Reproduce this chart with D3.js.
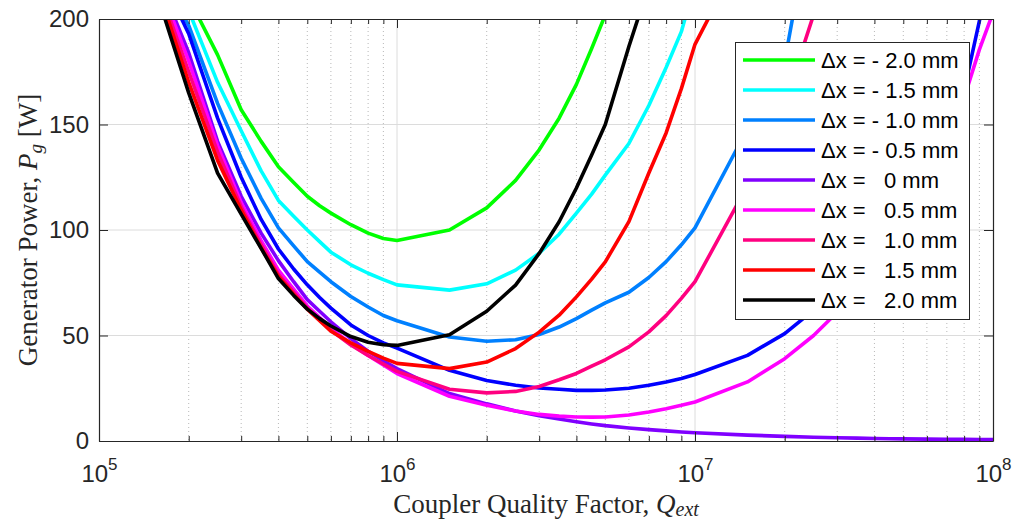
<!DOCTYPE html>
<html><head><meta charset="utf-8">
<script src="https://cdn.jsdelivr.net/npm/d3@7"></script>
<style>
body{margin:0;background:#fff;}
svg{display:block;}
text{white-space:pre;}
</style></head><body>
<svg id="chart" width="1015" height="523"></svg>
<script>
// Coupler quality factor grid
const Q = [1.5e5, 2e5, 2.5e5, 3e5, 3.5e5, 4e5, 4.5e5, 5e5, 5.5e5, 6e5, 7e5, 8e5, 9e5,
           1e6, 1.5e6, 2e6, 2.5e6, 3e6, 3.5e6, 4e6, 4.5e6, 5e6, 6e6, 7e6, 8e6, 9e6,
           1e7, 1.5e7, 2e7, 2.5e7, 3e7, 3.5e7, 4e7, 4.5e7, 5e7, 6e7, 7e7, 8e7, 9e7, 1e8];

// Generator power [W] per offset (null = outside the plotted range)
const dxMinus20 = [290, 210, 183, 157, 142, 130, 122.5, 116, 111.5, 108, 102.5, 98.5, 96,
                   95, 100, 110.5, 123.5, 138, 153, 169, 186, 202, 235, null, null, null,
                   null, null, null, null, null, null, null, null, null, null, null, null, null, null];
const dxMinus15 = [280, 204, 170, 147, 128, 114, 106.5, 100, 94.5, 89.5, 83.5, 79.5, 76.5,
                   74, 71.5, 74.5, 81, 89, 98, 108, 117, 126, 141, 159, 177, 194,
                   217, null, null, null, null, null, null, null, null, null, null, null, null, null];
const dxMinus10 = [227, 197, 160, 134, 115, 101, 92.5, 85, 80, 75.5, 68.5, 63.5, 59.5,
                   57, 49.3, 47.3, 48, 50.5, 54, 58, 62, 65.5, 70.5, 77.5, 85, 93,
                   101, 148, 180, 255, null, null, null, null, null, null, null, null, null, null];
const dxMinus05 = [230, 193, 153, 125, 105, 91, 81.5, 74, 68, 63, 55, 50, 46.5,
                   44, 33.5, 28.7, 26.4, 25.1, 24.5, 24, 24, 24.2, 25, 26.4, 28, 29.6,
                   31.5, 40.6, 50.9, 62, 71, 80, 89, 98, 107, 125, 144, 166, 199, 228];
const dxZero    = [227.5, 184, 142, 116, 98.5, 85.5, 75.5, 67, 61.5, 56.5, 48.5, 42.5, 38,
                   34.3, 22.5, 17.6, 14.2, 12.0, 10.4, 9.1, 8.1, 7.3, 6.2, 5.4, 4.8, 4.3,
                   3.9, 2.8, 2.2, 1.8, 1.55, 1.35, 1.2, 1.1, 1.0, 0.9, 0.8, 0.75, 0.7, 0.65];
const dxPlus05  = [226.5, 180, 140, 113, 95, 81, 72, 64, 58.5, 53.5, 46, 40.5, 36,
                   32, 21.2, 17.0, 14.2, 12.6, 11.8, 11.4, 11.3, 11.4, 12.3, 13.7, 15.3, 16.9,
                   18.5, 28, 39, 50, 61, 71, 81, 91, 101, 120, 141, 162.6, 185.5, 203];
const dxPlus10  = [224.7, 175, 137, 111, 93, 79, 70.5, 63, 57.5, 52.5, 45.5, 40.5, 36.5,
                   33, 24.5, 22.8, 23.5, 25.8, 29, 32, 35.5, 38.5, 44.6, 51.7, 59.4, 67.6,
                   75.5, 121, 160, 202, 250, null, null, null, null, null, null, null, null, null];
const dxPlus15  = [224, 170, 133, 109.5, 91.5, 78, 69.5, 62.5, 57, 52, 46.5, 42.5, 39.3,
                   36.8, 34.3, 37.4, 43.8, 51.6, 59.6, 68.3, 76.7, 84.9, 104, 127, 146, 167,
                   188, 236, null, null, null, null, null, null, null, null, null, null, null, null];
const dxPlus20  = [220, 165, 127, 107.5, 91.3, 77, 69, 62.5, 58, 54.5, 49.5, 46.8, 45.6,
                   45.3, 50.4, 61.5, 73.9, 88.9, 103.9, 119.9, 135.5, 150, 187, 216, null, null,
                   null, null, null, null, null, null, null, null, null, null, null, null, null, null];

const seriesLabels = ["Δx = - 2.0 mm", "Δx = - 1.5 mm", "Δx = - 1.0 mm", "Δx = - 0.5 mm",
                      "Δx =   0 mm", "Δx =   0.5 mm", "Δx =   1.0 mm", "Δx =   1.5 mm", "Δx =   2.0 mm"];
const seriesColors = ["#00ff00", "#00ffff", "#0080ff", "#0000ff", "#8000ff",
                      "#ff00ff", "#ff0080", "#ff0000", "#000000"];
const seriesValues = [dxMinus20, dxMinus15, dxMinus10, dxMinus05, dxZero, dxPlus05, dxPlus10, dxPlus15, dxPlus20];

const yTicks = [0, 50, 100, 150, 200];
const xMajorTicks = [1e5, 1e6, 1e7, 1e8];
const xTickExponents = ["5", "6", "7", "8"];
const xMinorTicks = [1e5, 1e6, 1e7].flatMap(b => [2,3,4,5,6,7,8,9].map(k => k * b));

const L = 99, R = 993, T = 19, B = 441;
const svg = d3.select("#chart");
const x = d3.scaleLog().domain([1e5, 1e8]).range([L, R]);
const y = d3.scaleLinear().domain([0, 200]).range([B, T]);
const axisColor = "#262626";

// grid
const grid = svg.append("g");
grid.selectAll("line.minor").data(xMinorTicks).join("line")
  .attr("x1", d => x(d)).attr("x2", d => x(d)).attr("y1", T).attr("y2", B)
  .attr("stroke", "#b8b8b8").attr("stroke-width", 1).attr("stroke-dasharray", "1,3");
grid.selectAll("line.majx").data([1e6, 1e7]).join("line")
  .attr("x1", d => x(d)).attr("x2", d => x(d)).attr("y1", T).attr("y2", B)
  .attr("stroke", "#dcdcdc").attr("stroke-width", 1);
grid.selectAll("line.majy").data([50, 100, 150]).join("line")
  .attr("x1", L).attr("x2", R).attr("y1", d => y(d)).attr("y2", d => y(d))
  .attr("stroke", "#dcdcdc").attr("stroke-width", 1);

// curves
svg.append("clipPath").attr("id", "clip").append("rect")
  .attr("x", L).attr("y", T).attr("width", R - L).attr("height", B - T);
const line = d3.line().defined(d => d[1] != null).x(d => x(d[0])).y(d => y(d[1]));
const curves = svg.append("g").attr("clip-path", "url(#clip)");
seriesValues.forEach((vals, i) => {
  curves.append("path").datum(Q.map((q, j) => [q, vals[j]]))
    .attr("d", line).attr("fill", "none").attr("stroke", seriesColors[i])
    .attr("stroke-width", 3.6).attr("stroke-linejoin", "round");
});

// axes
const allXTicks = xMajorTicks.concat(xMinorTicks);
const isMajor = d => xMajorTicks.includes(d);
function styleAxis(g) {
  g.attr("font-family", "'Liberation Sans', Arial, sans-serif").attr("font-size", 24);
  g.select(".domain").attr("stroke", axisColor).attr("stroke-width", 1.2);
  g.selectAll(".tick line").attr("stroke", axisColor).attr("stroke-width", 1);
  g.selectAll(".tick text").attr("fill", axisColor);
}
const gl = svg.append("g").attr("transform", `translate(${L},0)`)
  .call(d3.axisLeft(y).tickValues(yTicks).tickSizeInner(-9).tickSizeOuter(0).tickPadding(10));
styleAxis(gl);
const gr = svg.append("g").attr("transform", `translate(${R},0)`)
  .call(d3.axisRight(y).tickValues(yTicks).tickSizeInner(-9).tickSizeOuter(0).tickFormat(""));
styleAxis(gr);
const gb = svg.append("g").attr("transform", `translate(0,${B})`)
  .call(d3.axisBottom(x).tickValues(allXTicks).tickSizeInner(-9).tickSizeOuter(0).tickFormat(() => ""));
styleAxis(gb);
gb.selectAll(".tick line").attr("y2", d => isMajor(d) ? -9 : -5);
gb.selectAll(".tick text").each(function(d) {
  if (!isMajor(d)) return;
  const t = d3.select(this).attr("y", 41).attr("dy", null).text("");
  t.append("tspan").text("10");
  t.append("tspan").attr("dy", -12).attr("font-size", 17).text(xTickExponents[xMajorTicks.indexOf(d)]);
});
const gt = svg.append("g").attr("transform", `translate(0,${T})`)
  .call(d3.axisTop(x).tickValues(allXTicks).tickSizeInner(-9).tickSizeOuter(0).tickFormat(""));
styleAxis(gt);
gt.selectAll(".tick line").attr("y2", d => isMajor(d) ? 9 : 5);

// axis labels
const serif = "'Liberation Serif', 'Times New Roman', serif";
const xl = svg.append("text").attr("x", (L + R) / 2).attr("y", 513).attr("text-anchor", "middle")
  .attr("font-family", serif).attr("font-size", 27).attr("fill", axisColor);
xl.append("tspan").text("Coupler Quality Factor, ");
xl.append("tspan").attr("font-style", "italic").text("Q");
xl.append("tspan").attr("font-style", "italic").attr("font-size", 20).attr("dy", 3).text("ext");

const yl = svg.append("text").attr("transform", `translate(37,${(T + B) / 2}) rotate(-90)`)
  .attr("text-anchor", "middle").attr("font-family", serif).attr("font-size", 27).attr("fill", axisColor);
yl.append("tspan").text("Generator Power, ");
yl.append("tspan").attr("font-style", "italic").text("P");
yl.append("tspan").attr("font-style", "italic").attr("font-size", 19).attr("dy", 5).text("g");
yl.append("tspan").attr("dy", -5).text(" [W]");

// legend
const lg = svg.append("g");
lg.append("rect").attr("x", 735.5).attr("y", 42.5).attr("width", 234).attr("height", 277)
  .attr("fill", "#fff").attr("stroke", axisColor).attr("stroke-width", 1);
seriesLabels.forEach((lab, i) => {
  const yy = 60 + 30 * i;
  lg.append("line").attr("x1", 743).attr("x2", 815).attr("y1", yy).attr("y2", yy)
    .attr("stroke", seriesColors[i]).attr("stroke-width", 3.6);
  lg.append("text").attr("x", 821).attr("y", yy).attr("dy", "0.38em")
    .attr("font-family", "'Liberation Sans', Arial, sans-serif").attr("font-size", 22)
    .attr("fill", "#000").text(lab);
});
</script>
</body></html>
